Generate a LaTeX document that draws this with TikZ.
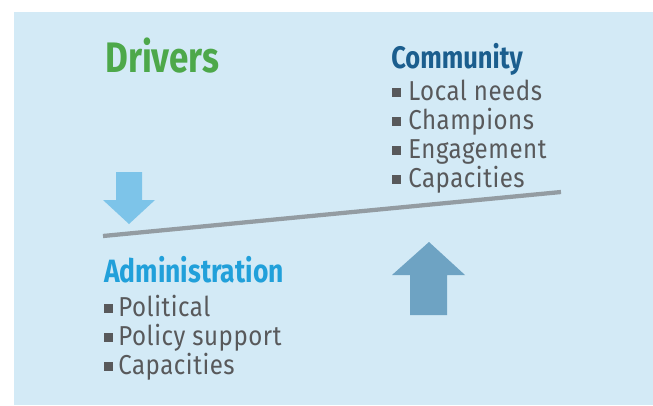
\documentclass[tikz,border=0pt]{standalone}
\usepackage{fontspec}
\setmainfont{Fira Sans}
\newfontfamily\headfont[FakeStretch=0.82]{Fira Sans}
\newfontfamily\itemfont[FakeStretch=0.88,LetterSpace=2]{Fira Sans}

\definecolor{bgblue}{HTML}{D3EAF6}
\definecolor{drivergreen}{HTML}{4DA84A}
\definecolor{commblue}{HTML}{1B5E8E}
\definecolor{adminblue}{HTML}{21A0DA}
\definecolor{itemgray}{HTML}{58595B}
\definecolor{beamgray}{HTML}{939CA2}
\definecolor{downblue}{HTML}{7DC4E9}
\definecolor{upblue}{HTML}{6EA3C3}

\begin{document}
\begin{tikzpicture}[x=0.75pt,y=-0.75pt,
    head/.style={anchor=base west,inner sep=0pt,font=\headfont\bfseries\fontsize{23.3}{24}\selectfont},
    item/.style={anchor=base west,inner sep=0pt,text=itemgray,font=\itemfont\fontsize{20.5}{21}\selectfont},
    bullet/.style={anchor=south west,fill=itemgray,inner sep=0pt,minimum size=6.5pt}]
        \useasboundingbox (0,0) rectangle (653,405);
        \fill[bgblue] (14,12) rectangle (653,405);

        \node[head,text=drivergreen,font=\headfont\bfseries\fontsize{32}{32}\selectfont] (drivers) at (105,72) {Drivers};

        % community side
        \node[head,text=commblue] (community) at (391,68) {Community};
        \foreach \t [count=\i] in {Local needs,Champions,Engagement,Capacities}{
            \node[bullet] (cb\i) at (392,68+29*\i) {};
            \node[item] (c\i) at (408,71+29*\i) {\t};
        }

        % administration side
        \node[head,text=adminblue,font=\headfont\bfseries\fontsize{24.2}{25}\selectfont] (admin) at (104,282) {Administration};
        \foreach \t [count=\i] in {Political,Policy support,Capacities}{
            \node[bullet] (ab\i) at (104,284+29*\i) {};
            \node[item] (a\i) at (118,287+29*\i) {\t};
        }

        % the beam
        \coordinate (beamL) at (103,236);
        \coordinate (beamR) at (561,192);
        \draw[beamgray,line width=3.2pt] (beamL) -- (beamR);

        % arrows
        \fill[downblue] (116,172) -- (142,172) -- (142,200) -- (155,200) -- (129,224) -- (103,200) -- (116,200) -- cycle;
        \fill[upblue] (410,315) -- (447,315) -- (447,275) -- (465,275) -- (429,242) -- (392,275) -- (410,275) -- cycle;
    \end{tikzpicture}
\end{document}
